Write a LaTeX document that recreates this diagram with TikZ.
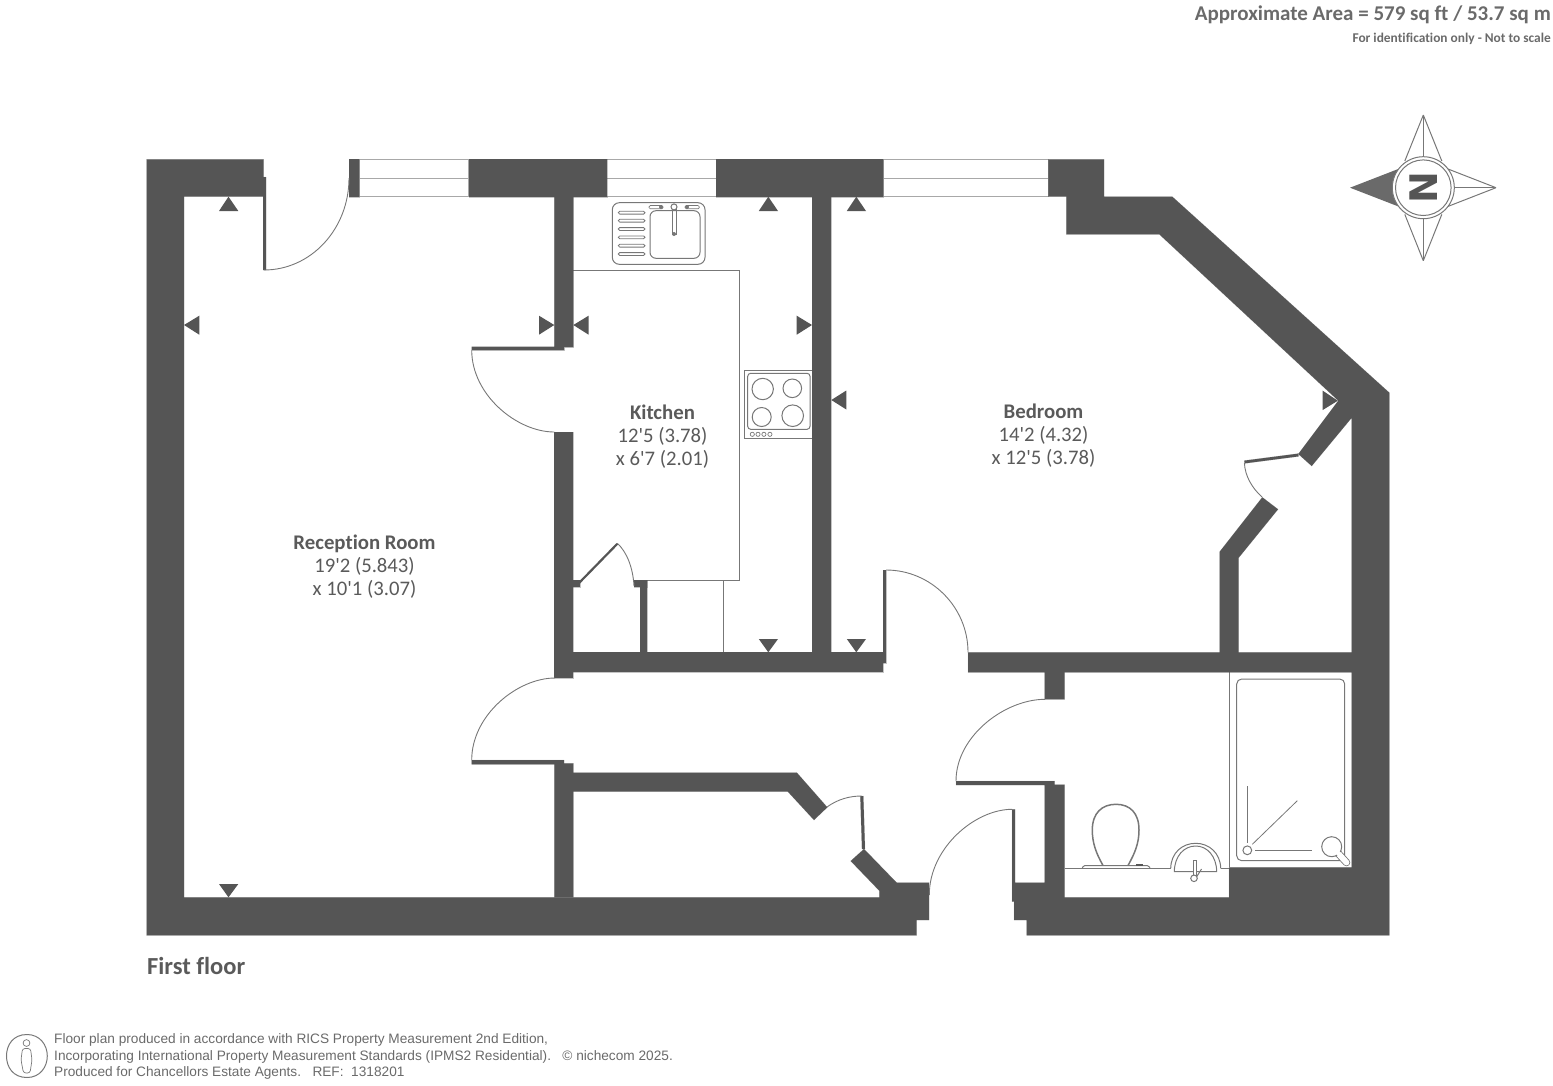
\documentclass[tikz,border=0pt]{standalone}
\usepackage{fontspec}
\setmainfont[Ligatures={TeXOff,NoCommon}]{Carlito}
\newfontfamily\arialfont[Ligatures=TeXOff]{Liberation Sans}
\newfontfamily\blockfont{DejaVu Sans}
\definecolor{wallc}{HTML}{555555}
\definecolor{textc}{HTML}{5A5A5A}
\definecolor{headc}{HTML}{6A6A6A}
\definecolor{linec}{HTML}{777777}
\definecolor{winc}{HTML}{A8A8A8}
\newcommand{\marktri}[3]{\fill[wallc] #1 -- #2 -- #3 -- cycle;}
\tikzset{
  wall/.style={fill=wallc,draw=wallc,draw opacity=.35,line width=.4pt},
  fine/.style={draw=linec,line width=.8pt},
  doorarc/.style={draw=linec,line width=.9pt},
  winline/.style={draw=winc,line width=.9pt},
  fixture/.style={draw=linec,line width=1pt},
  roomhead/.style={text=textc,font=\fontsize{20.8}{22}\selectfont\bfseries,anchor=center},
  roomdim/.style={text=textc,font=\fontsize{20.7}{22}\selectfont,anchor=center},
  legal/.style={text=headc,font=\arialfont\fontsize{13.67}{15}\selectfont,anchor=base west,inner sep=0pt},
}
\begin{document}
\begin{tikzpicture}[x=1pt,y=-1pt]
\useasboundingbox (0,0) rectangle (1553,1085);
% --- thin fixture lines (under walls)
\draw[fine] (573.3,270) -- (739,270) -- (739,580) -- (647,580);
\draw[fine] (723.3,580) -- (723.3,652.3);
\draw[fine] (1229.3,672.3) -- (1229.3,867.3);
% --- windows
\foreach \xa/\xb in {359/468.7,606.7/716.3,883.3/1048.3}{
  \draw[winline] (\xa,159.6) rectangle (\xb,196.4);
  \draw[winline] (\xa,178) -- (\xb,178);
}
% --- walls
\fill[wall] (146.5,159.3) -- (263.7,159.3) -- (263.7,177) -- (266,177) -- (266,270) -- (263.2,270) -- (263.2,196.7) -- (184,196.7) -- (184,897.3) -- (879.3,897.3) -- (879.3,890.7) -- (850.7,861) -- (864,849) -- (896.7,882.7) -- (929,882.7) -- (929,920) -- (916.7,920) -- (916.7,935.3) -- (146.5,935.3) -- cycle;
\fill[wall] (349,159.3) rectangle (359,196.7);
\fill[wall] (468.7,159.3) rectangle (606.7,196.7);
\fill[wall] (716.3,159.3) rectangle (883.3,196.7);
\fill[wall] (812,196.7) rectangle (831.3,652.3);
\fill[wall] (554.3,196.7) -- (573.3,196.7) -- (573.3,347) -- (564,347) -- (564,350) -- (471.7,350) -- (471.7,346.7) -- (554.3,346.7) -- cycle;
\fill[wall] (554.3,432) rectangle (573.3,677.7);
\fill[wall] (573.3,652.3) rectangle (883.3,672.3);
\fill[wall] (883.3,570) -- (886,570) -- (886,663.3) -- (883.3,663.3) -- cycle;
\fill[wall] (640,580) rectangle (647,652.3);
\fill[wall] (634,580) rectangle (647,586.7);
\fill[wall] (573.3,580) rectangle (580,586.7);
\fill[wall] (471.7,760) -- (564,760) -- (564,763.3) -- (573.3,763.3) -- (573.3,772.5) -- (796.7,772.5) -- (827.3,807.3) -- (814,820) -- (787.7,791.5) -- (573.3,791.5) -- (573.3,897.3) -- (554.3,897.3) -- (554.3,764.3) -- (471.7,764.3) -- cycle;
\fill[wall] (860.3,796) -- (863.3,796) -- (865,849) -- (862,849) -- cycle;
\fill[wall] (1048.3,159.3) -- (1104,159.3) -- (1104,196.7) -- (1172.3,196.7) -- (1389.3,392.7) -- (1389.3,935.3) -- (1026.7,935.3) -- (1026.7,920) -- (1014,920) -- (1014,901.7) -- (1012,901.7) -- (1012,809.3) -- (1015,809.3) -- (1015,882.7) -- (1044.7,882.7) -- (1044.7,785) -- (956,785) -- (956,781) -- (1054.7,781) -- (1054.7,784.7) -- (1064.7,784.7) -- (1064.7,897.3) -- (1229,897.3) -- (1229,867.3) -- (1351.7,867.3) -- (1351.7,672.3) -- (1064.7,672.3) -- (1064.7,699.3) -- (1044.7,699.3) -- (1044.7,672.3) -- (968,672.3) -- (968,652.3) -- (1219.7,652.3) -- (1219.7,551.7) -- (1262.3,497.3) -- (1278,509.3) -- (1238.7,557.7) -- (1238.7,652.3) -- (1351.7,652.3) -- (1351.7,417.7) -- (1311.7,466) -- (1298.3,454) -- (1338.3,400.7) -- (1159.3,234.3) -- (1066.3,234.3) -- (1066.3,196.7) -- (1048.3,196.7) -- cycle;
\fill[wall] (1298.3,453.6) -- (1244.3,460.6) -- (1244.6,463.4) -- (1298.6,456.4) -- cycle;
\draw[wallc,line width=2.2pt] (579,583) -- (617.3,543.8);
% --- door swings
\draw[doorarc] (264,270) .. controls (311,270) and (349,229) .. (349,178);
\draw[doorarc] (471.7,350) .. controls (471.7,395) and (517,432) .. (554.3,432);
\draw[doorarc] (471.7,760) .. controls (471.7,715) and (517.5,678) .. (555,678);
\draw[doorarc] (886,570) .. controls (931,570) and (968,607) .. (968,652.3);
\draw[doorarc] (956,781) .. controls (956,736) and (1005,699.3) .. (1045,699.3);
\draw[doorarc] (929.3,895) .. controls (929.3,848) and (975,809.3) .. (1012,809.3);
\draw[doorarc] (827,807) .. controls (838,799) and (850,796) .. (861.7,796);
\draw[doorarc] (617.3,543.3) .. controls (627,552) and (633,568) .. (634,586);
\draw[doorarc] (1244.4,463) .. controls (1245,476) and (1252,488) .. (1262,497);
% --- measure marks
\marktri{(228.5,196.7)}{(219,211)}{(238.3,211)}
\marktri{(184,325)}{(199.3,315.7)}{(199.3,334.7)}
\marktri{(554.3,325)}{(539,315.7)}{(539,334.7)}
\marktri{(573.3,325)}{(588.6,315.7)}{(588.6,334.7)}
\marktri{(768.3,196.7)}{(758.8,211)}{(778,211)}
\marktri{(856.3,196.7)}{(846.8,211)}{(866,211)}
\marktri{(812,325)}{(796.7,315.7)}{(796.7,334.7)}
\marktri{(831.3,400)}{(846.3,390.5)}{(846.3,409.5)}
\marktri{(768.3,652.3)}{(758.8,639)}{(778,639)}
\marktri{(856.3,652.3)}{(846.8,639)}{(866,639)}
\marktri{(228.5,897.3)}{(219,884)}{(238.3,884)}
\marktri{(1337.8,400.7)}{(1322.7,390.7)}{(1322.7,410)}
% --- sink
\draw[fixture,rounded corners=7pt] (612.3,202.7) rectangle (705,264.3);
\draw[fixture,rounded corners=6pt] (650,210.7) rectangle (700,258.3);
\foreach \yy in {212.7,220.7,229,237.3,245.7,254}{
  \draw[fixture,rounded corners=1.4pt,line width=.8pt] (618.3,\yy-1.4) rectangle (645,\yy+1.4);
}
\draw[fixture,rounded corners=1.3pt,line width=.7pt] (649,205.5) rectangle (663,208.8);
\draw[fixture,rounded corners=1.3pt,line width=.7pt] (685,205.5) rectangle (699.3,208.8);
\fill[linec] (661,207) circle[radius=2pt] (687,207) circle[radius=2pt] (674,234) circle[radius=2pt];
\draw[fixture] (672.3,209.5) rectangle (676,234);
\draw[fixture,fill=white] (674,206.9) circle[radius=3pt];
% --- hob
\draw[fine] (812,370.7) -- (744.7,370.7) -- (744.7,438.3) -- (812,438.3);
\draw[fixture,rounded corners=3pt] (747.7,373.3) rectangle (810,429.3);
\draw[fixture] (762.7,389) circle[radius=10.7pt] (792.3,388.3) circle[radius=9.3pt] (761.7,417) circle[radius=9.5pt] (792.7,415.7) circle[radius=10.8pt];
\foreach \xx in {752.3,758,763.9,769.9}{ \draw[fixture,line width=.7pt] (\xx,434.3) circle[radius=2.1pt]; }
% --- WC and basin
\draw[fine] (1064.7,868.3) -- (1170.7,868.3);
\draw[fine] (1220.7,868.3) -- (1229,868.3);
\draw[fixture,rounded corners=1.5pt] (1082.3,868.3) -- (1083,865.7) -- (1149,865.7) -- (1150,868.3);
\draw[fixture,line width=1.5pt] (1103,865.5) .. controls (1096,853) and (1092.3,843) .. (1092.3,830) .. controls (1092.3,813) and (1102,804.3) .. (1116,804.3) .. controls (1130,804.3) and (1139,813) .. (1139,830) .. controls (1139,843) and (1135,853) .. (1128,865.5);
\fill[wallc] (1136,864) rectangle (1143,865.7);
\draw[fixture] (1170.7,868.3) .. controls (1171,853) and (1182,843.3) .. (1195.7,843.3) .. controls (1209,843.3) and (1220.4,853) .. (1220.7,868.3);
\draw[fixture] (1174.3,871.7) .. controls (1174.5,856) and (1184,846) .. (1195.7,846) .. controls (1207,846) and (1216.5,856) .. (1216.7,871.7) -- cycle;
\draw[fixture,fill=white] (1193.4,860) rectangle (1196.8,876);
\draw[fixture,fill=white,line width=1pt] (1201.5,869) -- (1196.5,877);
\draw[fixture,fill=white] (1194,878.3) circle[radius=3.3pt];
% --- shower
\draw[fixture,rounded corners=5pt] (1236.7,679) rectangle (1344.7,860.7);
\draw[fine] (1247.3,786) -- (1247.3,843);
\draw[fine] (1252.3,844.3) -- (1297.3,800.7);
\draw[fine] (1255,850.3) -- (1311.7,850.3);
\draw[fixture] (1247.3,850.3) circle[radius=4.4pt];
\draw[draw=linec,line width=7.5pt,line cap=round] (1336,851) -- (1346.5,862.5);
\draw[draw=white,line width=5.8pt,line cap=round] (1336,851) -- (1346.5,862.5);
\draw[fixture,fill=white] (1331.7,846.7) circle[radius=10pt];
\fill[white] (1337,848.5) -- (1342,854) -- (1339,857) -- (1334,852) -- cycle;
% --- compass
\draw[fixture,line join=round] (1423.3,115) -- (1441.8,161) (1423.3,115) -- (1404.8,161);
\draw[fixture] (1423.3,115) -- (1423.3,157);
\draw[fixture] (1423.3,260.7) -- (1441.8,214.4) (1423.3,260.7) -- (1404.8,214.4);
\draw[fixture] (1423.3,260.7) -- (1423.3,218.7);
\draw[fixture] (1496,187.7) -- (1448,169) (1496,187.7) -- (1448,206.4);
\draw[fixture] (1496,187.7) -- (1454,187.7);
\fill[headc] (1350,187.7) -- (1399,168.7) -- (1392.6,187.7) -- (1399,206.7) -- cycle;
\draw[fixture,fill=white] (1423.3,187.7) circle[radius=31pt];
\draw[fixture] (1423.3,187.7) circle[radius=27.8pt];
\node[rotate=90,inner sep=0pt,text=wallc,font=\blockfont\bfseries\fontsize{38}{38}\selectfont] (compassn) at (1423.3,187.7) {N};
% --- person icon
\draw[fixture] (27,1034.5) .. controls (40,1034.5) and (47.3,1045) .. (47.3,1056) .. controls (47.3,1067) and (40,1077.5) .. (27,1077.5) .. controls (13,1077.5) and (6.5,1067) .. (6.5,1056) .. controls (6.5,1045) and (13,1034.5) .. (27,1034.5) -- cycle;
\draw[fixture,line width=.7pt] (26.5,1043) circle[radius=3.4pt];
\draw[fixture,line width=.7pt,rounded corners=2.5pt] (22.5,1048.5) -- (30.5,1048.5) -- (32,1060) -- (30,1073) -- (23.5,1073) -- (21,1060) -- cycle;
% --- texts
\node[anchor=east,inner sep=0pt,text=headc,font=\fontsize{21}{24}\selectfont\bfseries] (areatxt) at (1551,15) {Approximate Area = 579 sq ft / 53.7 sq m};
\node[anchor=east,inner sep=0pt,text=headc,font=\fontsize{13.4}{15}\selectfont\bfseries] (idtxt) at (1551,39) {For identification only - Not to scale};
\node[roomhead] (recname) at (364.5,543.5) {Reception Room};
\node[roomdim] (recdima) at (364.5,566) {19'2 (5.843)};
\node[roomdim] (recdimb) at (364.5,589) {x 10'1 (3.07)};
\node[roomhead] (kitname) at (662.5,412.3) {Kitchen};
\node[roomdim] (kitdima) at (662.5,436) {12'5 (3.78)};
\node[roomdim] (kitdimb) at (662.5,459) {x 6'7 (2.01)};
\node[roomhead] (bedname) at (1043.5,411.3) {Bedroom};
\node[roomdim] (beddima) at (1043.5,435) {14'2 (4.32)};
\node[roomdim] (beddimb) at (1043.5,458) {x 12'5 (3.78)};
\node[anchor=west,inner sep=0pt,text=textc,font=\fontsize{24.5}{26}\selectfont\bfseries] (floorname) at (147,965.7) {First floor};
\node[legal] (legala) at (54,1043) {Floor plan produced in accordance with RICS Property Measurement 2nd Edition,};
\node[legal] (legalb) at (54,1060) {Incorporating International Property Measurement Standards (IPMS2 Residential).\ \ \ © nichecom 2025.};
\node[legal] (legalc) at (54,1076) {Produced for Chancellors Estate Agents.\ \ \ REF:\ \ 1318201};
\end{tikzpicture}
\end{document}
